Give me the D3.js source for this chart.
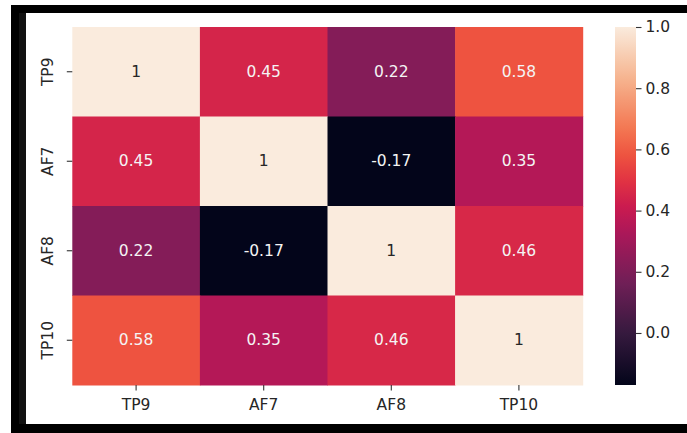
<!DOCTYPE html>
<html>
<head>
<meta charset="utf-8">
<script src="https://cdn.jsdelivr.net/npm/d3@7"></script>
<style>
  html, body { margin: 0; padding: 0; background: #fff; }
  svg { display: block; }
  text { font-family: "DejaVu Sans", sans-serif; }
</style>
</head>
<body>
<svg id="chart" width="687" height="433"></svg>
<script>
// Channel labels (rows and columns share the same order)
const channels = ["TP9", "AF7", "AF8", "TP10"];

// Correlation matrix, one array per row
const rowTP9  = [1, 0.45, 0.22, 0.58];
const rowAF7  = [0.45, 1, -0.17, 0.35];
const rowAF8  = [0.22, -0.17, 1, 0.46];
const rowTP10 = [0.58, 0.35, 0.46, 1];
const matrix = [rowTP9, rowAF7, rowAF8, rowTP10];

// Colour bar ticks
const colorbarTicks = [0.0, 0.2, 0.4, 0.6, 0.8, 1.0];

// "rocket" colour map anchors (position 0..1, colour)
const rocketPos    = [0, 0.143, 0.286, 0.429, 0.5, 0.571, 0.643, 0.714, 0.857, 1];
const rocketColors = ["#03051a", "#35193e", "#701f57", "#ad1759", "#cb1b4f", "#e13342", "#ee5440", "#f37651", "#f6b48f", "#faebdd"];

const svg = d3.select("#chart");

// Frame around the figure
svg.append("rect").attr("x", 11).attr("y", 5).attr("width", 676).attr("height", 8).attr("fill", "#000");
svg.append("rect").attr("x", 11).attr("y", 5).attr("width", 8).attr("height", 428).attr("fill", "#000");
svg.append("rect").attr("x", 19).attr("y", 13).attr("width", 7).attr("height", 420).attr("fill", "#111");
svg.append("rect").attr("x", 11).attr("y", 424).attr("width", 676).attr("height", 9).attr("fill", "#000");

const plot = { left: 72.3, right: 582.7, top: 27, bottom: 385 };
const cbar = { left: 615, right: 636 };

const flat = matrix.flat();
const vmin = d3.min(flat), vmax = d3.max(flat);

const color = d3.scaleLinear()
  .domain(rocketPos.map(p => vmin + (vmax - vmin) * p))
  .range(rocketColors)
  .interpolate(d3.interpolateRgb);

const x = d3.scaleBand().domain(channels).range([plot.left, plot.right]);
const y = d3.scaleBand().domain(channels).range([plot.top, plot.bottom]);

const cells = [];
matrix.forEach((row, i) => row.forEach((v, j) => cells.push({ r: channels[i], c: channels[j], v })));

svg.append("g").selectAll("rect").data(cells).join("rect")
  .attr("x", d => x(d.c))
  .attr("y", d => y(d.r))
  .attr("width", x.bandwidth() + 0.5)
  .attr("height", y.bandwidth() + 0.5)
  .attr("fill", d => color(d.v));

// Annotations: light text on dark cells, dark text on light cells
svg.append("g").selectAll("text").data(cells).join("text")
  .attr("x", d => x(d.c) + x.bandwidth() / 2)
  .attr("y", d => y(d.r) + y.bandwidth() / 2)
  .attr("text-anchor", "middle")
  .attr("dominant-baseline", "central")
  .attr("font-size", 15.5)
  .attr("fill", d => {
    const c = d3.rgb(color(d.v));
    const lum = 0.2126 * c.r + 0.7152 * c.g + 0.0722 * c.b;
    return lum > 128 ? "#262626" : "#f4f4f4";
  })
  .text(d => String(d.v));

// Axes
const xAxis = svg.append("g")
  .attr("transform", `translate(0,${plot.bottom})`)
  .call(d3.axisBottom(x).tickSize(5.5).tickPadding(5));
const yAxis = svg.append("g")
  .attr("transform", `translate(${plot.left},0)`)
  .call(d3.axisLeft(y).tickSize(5.5).tickPadding(5));

[xAxis, yAxis].forEach(g => {
  g.select(".domain").remove();
  g.selectAll(".tick line").attr("stroke", "#333").attr("stroke-width", 1.1);
  g.selectAll(".tick text").attr("fill", "#262626").attr("font-size", 15.5)
    .attr("font-family", "DejaVu Sans, sans-serif");
});
xAxis.selectAll(".tick text").attr("dy", "0.95em");
yAxis.selectAll(".tick text")
  .attr("transform", "rotate(-90)")
  .attr("x", 0).attr("dy", 0)
  .attr("y", -19)
  .attr("text-anchor", "middle");

// Colour bar
const cy = d3.scaleLinear().domain([vmin, vmax]).range([plot.bottom, plot.top]);
const defs = svg.append("defs");
const grad = defs.append("linearGradient").attr("id", "cbar-grad")
  .attr("x1", 0).attr("y1", 1).attr("x2", 0).attr("y2", 0);
d3.range(0, 1.0001, 0.02).forEach(t => {
  grad.append("stop").attr("offset", t).attr("stop-color", color(vmin + t * (vmax - vmin)));
});
svg.append("rect")
  .attr("x", cbar.left).attr("y", plot.top)
  .attr("width", cbar.right - cbar.left).attr("height", plot.bottom - plot.top)
  .attr("fill", "url(#cbar-grad)");

const cAxis = svg.append("g")
  .attr("transform", `translate(${cbar.right},0)`)
  .call(d3.axisRight(cy).tickValues(colorbarTicks).tickFormat(d3.format(".1f")).tickSize(5.5).tickPadding(4));
cAxis.select(".domain").remove();
cAxis.selectAll(".tick line").attr("stroke", "#333").attr("stroke-width", 1.1);
cAxis.selectAll(".tick text").attr("fill", "#262626").attr("font-size", 15.5)
  .attr("font-family", "DejaVu Sans, sans-serif");
</script>
</body>
</html>
